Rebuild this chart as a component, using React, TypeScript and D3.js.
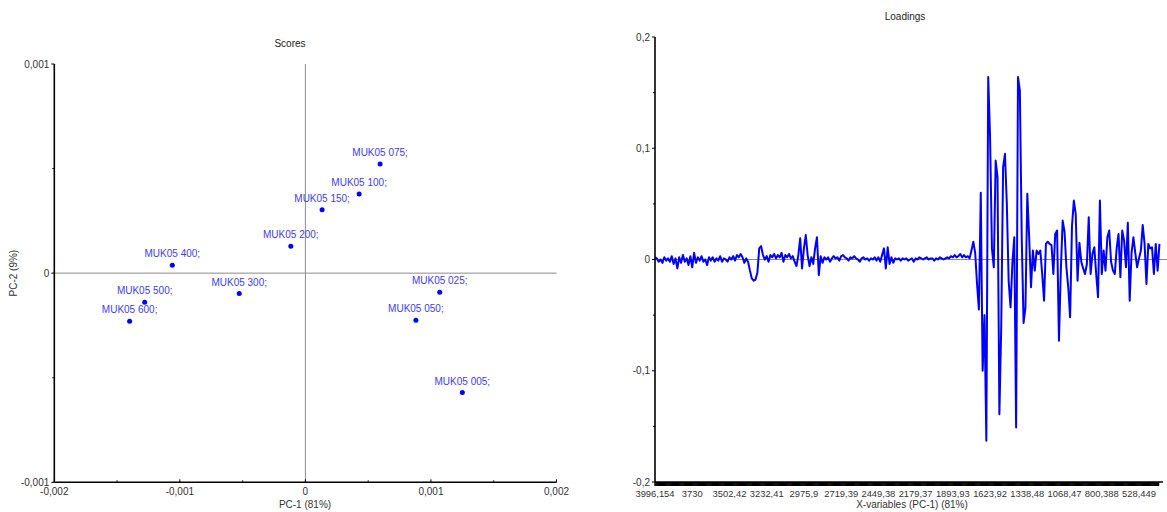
import React from "react";
import * as d3 from "d3";

const FONT = "'Liberation Sans', Arial, Helvetica, sans-serif";

// ---- Scores data ----
const sampleNames = ["MUK05 005;", "MUK05 025;", "MUK05 050;", "MUK05 075;", "MUK05 100;", "MUK05 150;", "MUK05 200;", "MUK05 300;", "MUK05 400;", "MUK05 500;", "MUK05 600;"];
const pc1Scores = [0.00125, 0.00107, 0.00088, 0.000595, 0.000428, 0.000133, -0.000116, -0.000527, -0.00106, -0.00128, -0.0014];
const pc2Scores = [-0.000571, -0.0000909, -0.000225, 0.000522, 0.000379, 0.000303, 0.000129, -0.0000973, 0.000038, -0.000139, -0.00023];

const scoreXTicks = [-0.002, -0.001, 0, 0.001, 0.002];
const scoreXTickLabels = ["-0,002", "-0,001", "0", "0,001", "0,002"];
const scoreXMinor = [-0.0015, -0.0005, 0.0005, 0.0015];
const scoreYTicks = [-0.001, 0, 0.001];
const scoreYTickLabels = ["-0,001", "0", "0,001"];
const scoreYMinor = [-0.0005, 0.0005];

// ---- Loadings data (PC-1), by variable index ----
const loadingsPC1 = [
  0.002, 0.001, -0.002, 0.000, -0.003, 0.002, -0.001, 0.001, -0.002, 0.003,
  -0.004, 0.001, -0.008, 0.002, -0.003, 0.004, -0.002, 0.001, -0.005, 0.003,
  -0.007, 0.006, -0.003, 0.002, -0.001, 0.003, -0.002, 0.000, -0.005, 0.002,
  -0.001, 0.002, -0.002, 0.001, -0.001, 0.003, -0.002, 0.001, 0.000, -0.002,
  0.002, 0.000, 0.003, -0.001, 0.004, 0.002, 0.005, 0.002, -0.003, 0.001,
  -0.002, -0.010, -0.017, -0.019, -0.018, -0.012, 0.010, 0.012, 0.004, 0.000,
  0.003, -0.002, 0.004, 0.002, 0.005, 0.001, 0.004, 0.002, 0.006, -0.002,
  0.004, 0.002, 0.005, 0.001, 0.003, -0.002, -0.006, 0.004, 0.019, -0.008,
  0.010, 0.022, 0.004, -0.006, 0.002, -0.004, 0.010, 0.020, -0.014, 0.003,
  -0.003, 0.002, 0.000, 0.002, -0.002, 0.001, 0.003, 0.001, 0.002, -0.001,
  0.003, 0.004, 0.002, 0.001, -0.001, 0.002, 0.001, 0.003, 0.001, 0.000,
  -0.002, 0.001, 0.002, 0.000, 0.001, -0.001, 0.001, 0.000, 0.002, -0.001,
  0.002, -0.002, 0.004, 0.010, -0.008, 0.011, -0.004, 0.002, -0.003, 0.001,
  0.000, 0.001, -0.001, 0.001, 0.000, 0.001, -0.001, 0.000, 0.001, -0.002,
  0.001, 0.000, 0.002, 0.001, 0.000, 0.001, 0.002, 0.000, 0.001, 0.001,
  -0.001, 0.001, 0.000, 0.002, 0.001, 0.000, 0.001, 0.002, 0.001, 0.003,
  0.002, 0.004, 0.002, 0.003, 0.005, 0.002, 0.004, 0.002, 0.003, 0.001,
  0.008, 0.016, 0.006, -0.022, -0.045, 0.060, -0.100, -0.050, -0.163, 0.164,
  0.110, 0.010, -0.007, 0.089, 0.074, -0.139, -0.060, 0.083, 0.095, 0.050,
  -0.020, -0.043, -0.003, 0.020, -0.151, 0.164, 0.152, 0.020, -0.057, -0.043,
  0.059, 0.020, -0.025, 0.008, -0.010, 0.008, 0.005, 0.008, -0.013, -0.037,
  0.014, 0.016, 0.014, 0.013, -0.013, 0.023, 0.026, -0.073, -0.010, 0.035,
  0.025, -0.007, -0.025, -0.052, 0.030, 0.053, 0.041, -0.019, 0.015, -0.002,
  -0.008, -0.013, -0.004, 0.038, -0.013, 0.005, 0.011, -0.013, -0.034, 0.053,
  -0.013, 0.008, -0.010, 0.020, 0.026, -0.002, -0.010, -0.013, 0.010, 0.023,
  -0.016, 0.026, 0.017, -0.007, 0.033, -0.037, 0.006, 0.020, 0.006, -0.007,
  0.001, 0.008, 0.031, 0.014, -0.022, 0.014, 0.010, 0.011, -0.013, 0.014,
  -0.010, 0.014,
];

const loadXTickIdx = [0, 20, 40, 60, 80, 100, 120, 140, 160, 180, 200, 220, 240, 260];
const loadXTickLabels = ["3996,154", "3730", "3502,42", "3232,41", "2975,9", "2719,39", "2449,38", "2179,37", "1893,93", "1623,92", "1338,48", "1068,47", "800,388", "528,449"];
const loadYTicks = [-0.2, -0.1, 0, 0.1, 0.2];
const loadYTickLabels = ["-0,2", "-0,1", "0", "0,1", "0,2"];
const loadYMinor = [-0.15, -0.05, 0.05, 0.15];

export default function App() {
  const sx = d3.scaleLinear().domain([-0.002, 0.002]).range([54.3, 556.5]);
  const sy = d3.scaleLinear().domain([-0.001, 0.001]).range([482.3, 64]);
  const lx = d3.scaleLinear().domain([0, 260]).range([655, 1139]);
  const ly = d3.scaleLinear().domain([-0.2, 0.2]).range([482, 37]);
  const linePath = d3.line<number>().x((_, i) => lx(i)).y((d) => ly(d))(loadingsPC1) || "";
  const bandIdx = d3.range(0, loadingsPC1.length - 1, 0.5);

  const tickColor = "#333";
  const labelColor = "#3c3cff";

  return (
    <svg width={1167} height={512} style={{ position: "absolute", left: 0, top: 0, background: "#fff" }} fontFamily={FONT}>
      {/* ===== Scores ===== */}
      <text x={290} y={47} fontSize={10} textAnchor="middle" fill="#222">Scores</text>
      {/* zero lines */}
      <line x1={sx(-0.002)} x2={sx(0.002)} y1={sy(0)} y2={sy(0)} stroke="#8a8a8a" strokeWidth={1} />
      <line x1={sx(0)} x2={sx(0)} y1={sy(0.001)} y2={sy(-0.001)} stroke="#8a8a8a" strokeWidth={1} />
      {/* axes */}
      <line x1={sx(-0.002)} x2={sx(-0.002)} y1={sy(0.001)} y2={sy(-0.001)} stroke="#000" strokeWidth={1.6} />
      <line x1={sx(-0.002)} x2={sx(0.002)} y1={sy(-0.001)} y2={sy(-0.001)} stroke="#000" strokeWidth={1.6} />
      {scoreYTicks.map((t, i) => (
        <g key={"sy" + i}>
          <line x1={sx(-0.002) - 3} x2={sx(-0.002)} y1={sy(t)} y2={sy(t)} stroke="#000" />
          <text x={sx(-0.002) - 5} y={sy(t) + 3.5} fontSize={10} textAnchor="end" fill={tickColor}>{scoreYTickLabels[i]}</text>
        </g>
      ))}
      {scoreYMinor.map((t, i) => (
        <line key={"sym" + i} x1={sx(-0.002) - 2} x2={sx(-0.002)} y1={sy(t)} y2={sy(t)} stroke="#000" />
      ))}
      {scoreXTicks.map((t, i) => (
        <g key={"sx" + i}>
          <line x1={sx(t)} x2={sx(t)} y1={sy(-0.001)} y2={sy(-0.001) - 3} stroke="#000" />
          <text x={sx(t)} y={sy(-0.001) + 13} fontSize={10} textAnchor="middle" fill={tickColor}>{scoreXTickLabels[i]}</text>
        </g>
      ))}
      {scoreXMinor.map((t, i) => (
        <line key={"sxm" + i} x1={sx(t)} x2={sx(t)} y1={sy(-0.001)} y2={sy(-0.001) - 2} stroke="#000" />
      ))}
      <text x={305} y={508} fontSize={10} textAnchor="middle" fill={tickColor}>PC-1 (81%)</text>
      <text transform={`translate(17, ${sy(0)}) rotate(-90)`} fontSize={10} textAnchor="middle" fill={tickColor}>PC-2 (9%)</text>
      {pc1Scores.map((v, i) => (
        <g key={"pt" + i}>
          <circle cx={sx(v)} cy={sy(pc2Scores[i])} r={2.5} fill="#0000ff" />
          <text x={sx(v)} y={sy(pc2Scores[i]) - 8} fontSize={10} textAnchor="middle" fill={labelColor}>{sampleNames[i]}</text>
        </g>
      ))}

      {/* ===== Loadings ===== */}
      <text x={905} y={20} fontSize={10} textAnchor="middle" fill="#222">Loadings</text>
      <line x1={lx(0)} x2={1167} y1={ly(0)} y2={ly(0)} stroke="#8a8a8a" strokeWidth={1} />
      <path d={linePath} fill="none" stroke="#0000ff" strokeWidth={2} strokeLinejoin="round" />
      <line x1={lx(0)} x2={lx(0)} y1={ly(0.2)} y2={ly(-0.2)} stroke="#000" strokeWidth={1.6} />
      <line x1={lx(0)} x2={1163} y1={ly(-0.2)} y2={ly(-0.2)} stroke="#000" strokeWidth={1.6} />
      {bandIdx.map((i) => (
        <line key={"bt" + i} x1={lx(i)} x2={lx(i)} y1={ly(-0.2)} y2={ly(-0.2) + 4} stroke="#000" strokeWidth={1.4} />
      ))}
      {loadYTicks.map((t, i) => (
        <g key={"ly" + i}>
          <line x1={lx(0) - 3} x2={lx(0)} y1={ly(t)} y2={ly(t)} stroke="#000" />
          <text x={lx(0) - 5} y={ly(t) + 3.5} fontSize={10} textAnchor="end" fill={tickColor}>{loadYTickLabels[i]}</text>
        </g>
      ))}
      {loadYMinor.map((t, i) => (
        <line key={"lym" + i} x1={lx(0) - 2} x2={lx(0)} y1={ly(t)} y2={ly(t)} stroke="#000" />
      ))}
      {loadXTickIdx.map((t, i) => (
        <text key={"lx" + i} x={lx(t)} y={497} fontSize={9.4} textAnchor="middle" fill={tickColor}>{loadXTickLabels[i]}</text>
      ))}
      <text x={912} y={508} fontSize={10} textAnchor="middle" fill={tickColor}>X-variables (PC-1) (81%)</text>
    </svg>
  );
}
